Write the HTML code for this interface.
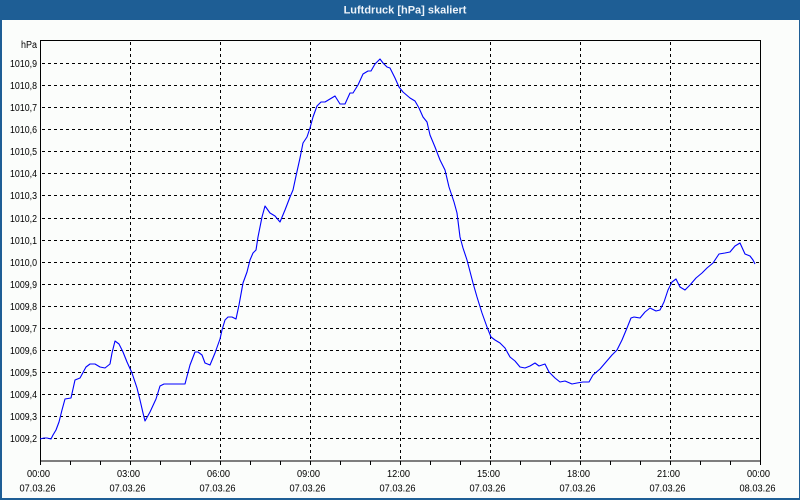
<!DOCTYPE html>
<html>
<head>
<meta charset="utf-8">
<style>
html,body{margin:0;padding:0;background:#fff;}
svg{display:block;}
text{font-family:"Liberation Sans",sans-serif;font-size:10px;fill:#000;}
</style>
</head>
<body>
<svg width="800" height="500" viewBox="0 0 800 500" xmlns="http://www.w3.org/2000/svg">
<rect x="0" y="0" width="800" height="500" fill="#fbfdfb"/>
<!-- frame -->
<rect x="0" y="0" width="800" height="20" fill="#1e5e95"/>
<rect x="0" y="0" width="2" height="500" fill="#1e5e95"/>
<rect x="799" y="0" width="1" height="500" fill="#1e5e95"/>
<rect x="0" y="498" width="800" height="2" fill="#1e5e95"/>
<text x="405" y="13.5" text-anchor="middle" style="font-weight:bold;fill:#eef4fa;font-size:11px">Luftdruck [hPa] skaliert</text>

<!-- grid -->
<g stroke="#000" stroke-width="1" stroke-dasharray="3,3" shape-rendering="crispEdges">
<line x1="42" y1="63.5" x2="760" y2="63.5"/>
<line x1="42" y1="85.5" x2="760" y2="85.5"/>
<line x1="42" y1="107.5" x2="760" y2="107.5"/>
<line x1="42" y1="129.5" x2="760" y2="129.5"/>
<line x1="42" y1="151.5" x2="760" y2="151.5"/>
<line x1="42" y1="173.5" x2="760" y2="173.5"/>
<line x1="42" y1="195.5" x2="760" y2="195.5"/>
<line x1="42" y1="218.5" x2="760" y2="218.5"/>
<line x1="42" y1="240.5" x2="760" y2="240.5"/>
<line x1="42" y1="262.5" x2="760" y2="262.5"/>
<line x1="42" y1="284.5" x2="760" y2="284.5"/>
<line x1="42" y1="306.5" x2="760" y2="306.5"/>
<line x1="42" y1="328.5" x2="760" y2="328.5"/>
<line x1="42" y1="350.5" x2="760" y2="350.5"/>
<line x1="42" y1="372.5" x2="760" y2="372.5"/>
<line x1="42" y1="394.5" x2="760" y2="394.5"/>
<line x1="42" y1="416.5" x2="760" y2="416.5"/>
<line x1="42" y1="438.5" x2="760" y2="438.5"/>
<line x1="130.5" y1="42" x2="130.5" y2="461"/>
<line x1="220.5" y1="42" x2="220.5" y2="461"/>
<line x1="310.5" y1="42" x2="310.5" y2="461"/>
<line x1="400.5" y1="42" x2="400.5" y2="461"/>
<line x1="490.5" y1="42" x2="490.5" y2="461"/>
<line x1="580.5" y1="42" x2="580.5" y2="461"/>
<line x1="670.5" y1="42" x2="670.5" y2="461"/>
</g>

<!-- axes box -->
<g stroke="#000" stroke-width="1" fill="none" shape-rendering="crispEdges">
<rect x="40.5" y="40.5" width="720" height="420.5"/>
<path d="M40.5 461v4 M70.5 461v4 M100.5 461v4 M130.5 461v4 M160.5 461v4 M190.5 461v4 M220.5 461v4 M250.5 461v4 M280.5 461v4 M310.5 461v4 M340.5 461v4 M370.5 461v4 M400.5 461v4 M430.5 461v4 M460.5 461v4 M490.5 461v4 M520.5 461v4 M550.5 461v4 M580.5 461v4 M610.5 461v4 M640.5 461v4 M670.5 461v4 M700.5 461v4 M730.5 461v4 M760.5 461v4"/>
</g>

<!-- y labels -->
<g text-anchor="end">
<text x="37" y="48" textLength="16" lengthAdjust="spacingAndGlyphs">hPa</text>
<text x="37" y="67" textLength="27" lengthAdjust="spacingAndGlyphs">1010,9</text>
<text x="37" y="89" textLength="27" lengthAdjust="spacingAndGlyphs">1010,8</text>
<text x="37" y="111" textLength="27" lengthAdjust="spacingAndGlyphs">1010,7</text>
<text x="37" y="133" textLength="27" lengthAdjust="spacingAndGlyphs">1010,6</text>
<text x="37" y="155" textLength="27" lengthAdjust="spacingAndGlyphs">1010,5</text>
<text x="37" y="177" textLength="27" lengthAdjust="spacingAndGlyphs">1010,4</text>
<text x="37" y="199" textLength="27" lengthAdjust="spacingAndGlyphs">1010,3</text>
<text x="37" y="222" textLength="27" lengthAdjust="spacingAndGlyphs">1010,2</text>
<text x="37" y="244" textLength="27" lengthAdjust="spacingAndGlyphs">1010,1</text>
<text x="37" y="266" textLength="27" lengthAdjust="spacingAndGlyphs">1010,0</text>
<text x="37" y="288" textLength="27" lengthAdjust="spacingAndGlyphs">1009,9</text>
<text x="37" y="310" textLength="27" lengthAdjust="spacingAndGlyphs">1009,8</text>
<text x="37" y="332" textLength="27" lengthAdjust="spacingAndGlyphs">1009,7</text>
<text x="37" y="354" textLength="27" lengthAdjust="spacingAndGlyphs">1009,6</text>
<text x="37" y="376" textLength="27" lengthAdjust="spacingAndGlyphs">1009,5</text>
<text x="37" y="398" textLength="27" lengthAdjust="spacingAndGlyphs">1009,4</text>
<text x="37" y="420" textLength="27" lengthAdjust="spacingAndGlyphs">1009,3</text>
<text x="37" y="442" textLength="27" lengthAdjust="spacingAndGlyphs">1009,2</text>
</g>

<!-- x labels -->
<g text-anchor="middle">
<text x="38.5" y="477" textLength="23" lengthAdjust="spacingAndGlyphs">00:00</text><text x="37.5" y="491.5" textLength="36" lengthAdjust="spacingAndGlyphs">07.03.26</text>
<text x="128.5" y="477" textLength="23" lengthAdjust="spacingAndGlyphs">03:00</text><text x="127.5" y="491.5" textLength="36" lengthAdjust="spacingAndGlyphs">07.03.26</text>
<text x="218.5" y="477" textLength="23" lengthAdjust="spacingAndGlyphs">06:00</text><text x="217.5" y="491.5" textLength="36" lengthAdjust="spacingAndGlyphs">07.03.26</text>
<text x="308.5" y="477" textLength="23" lengthAdjust="spacingAndGlyphs">09:00</text><text x="307.5" y="491.5" textLength="36" lengthAdjust="spacingAndGlyphs">07.03.26</text>
<text x="398.5" y="477" textLength="23" lengthAdjust="spacingAndGlyphs">12:00</text><text x="397.5" y="491.5" textLength="36" lengthAdjust="spacingAndGlyphs">07.03.26</text>
<text x="488.5" y="477" textLength="23" lengthAdjust="spacingAndGlyphs">15:00</text><text x="487.5" y="491.5" textLength="36" lengthAdjust="spacingAndGlyphs">07.03.26</text>
<text x="578.5" y="477" textLength="23" lengthAdjust="spacingAndGlyphs">18:00</text><text x="577.5" y="491.5" textLength="36" lengthAdjust="spacingAndGlyphs">07.03.26</text>
<text x="668.5" y="477" textLength="23" lengthAdjust="spacingAndGlyphs">21:00</text><text x="667.5" y="491.5" textLength="36" lengthAdjust="spacingAndGlyphs">07.03.26</text>
<text x="758.5" y="477" textLength="23" lengthAdjust="spacingAndGlyphs">00:00</text><text x="757.5" y="491.5" textLength="36" lengthAdjust="spacingAndGlyphs">08.03.26</text>
</g>

<!-- series -->
<polyline fill="none" stroke="#0000ff" stroke-width="1.1" stroke-linejoin="round" points="
40,439 44,438 47,438 51,439 53,435 56,430 59,422 62,410 65,399 71,398 75,380 80,378 86,367 90,364 95,364 100,367 105,368 110,364 112,353 115,341 119,344 123,352 127,362 132,373 137,388 140,400 143,413 145,421 150,412 156,399 160,386 164,384 185,384 190,365 195,352 198,352 202,355 205,363 210,365 215,353 220,339 222,330 225,320 228,317 232,317 236,319 239,305 243,283 247,272 250,260 253,253 256,250 258,237 262,217 265,206 270,213 275,216 280,222 285,210 290,197 293,190 296,176 300,158 303,143 307,137 310,128 313,117 317,106 321,102 325,102 330,99 335,96 340,104 345,104 350,93 353,93 358,85 363,74 368,71 371,71 375,64 377,62 380,59 383,63 387,67 390,68 395,78 399,87 403,92 410,98 415,101 419,108 423,117 427,122 430,135 435,147 440,160 445,170 449,187 454,202 457,213 460,237 463,248 467,260 473,283 477,297 482,313 487,327 491,337 495,340 500,343 505,348 510,357 515,361 520,367 525,368 530,366 535,363 539,366 545,364 549,372 555,378 560,382 565,381 572,384 577,383 583,382 589,382 593,375 600,369 606,362 612,355 617,350 622,340 627,328 631,318 634,317 640,318 645,312 650,308 656,311 660,310 664,302 668,290 672,282 676,279 680,287 685,290 690,285 696,278 702,273 707,268 713,263 719,254 725,253 730,252 735,246 740,243 745,254 750,256 753,260 755,264"/>
</svg>
</body>
</html>
